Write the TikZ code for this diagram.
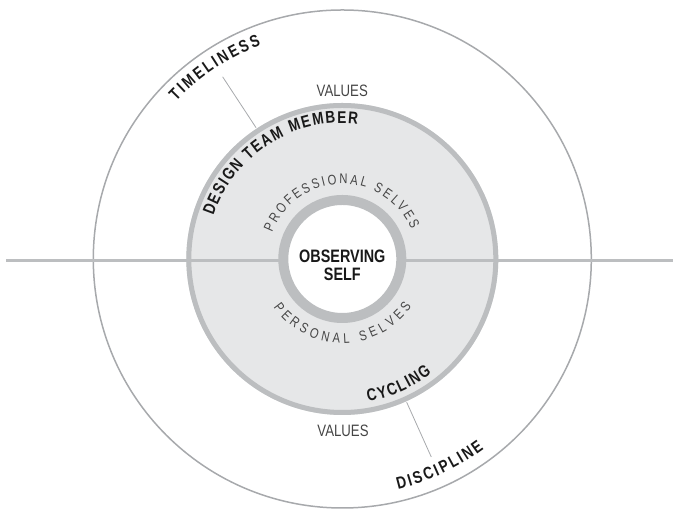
\documentclass[tikz,border=0pt]{standalone}
\usepackage{fontspec}
\setmainfont{Liberation Sans}
\newfontfamily\condsans{Liberation Sans}[FakeStretch=0.8]
\usetikzlibrary{calc,decorations.text}
\definecolor{ringgray}{HTML}{BCBEC0}
\definecolor{discgray}{HTML}{E6E7E8}
\definecolor{linegray}{HTML}{A7A9AC}
\definecolor{labelgray}{HTML}{454545}
\newcommand{\boldlab}{\condsans\bfseries\fontsize{17}{17}\selectfont}
\newcommand{\thinlab}{\condsans\fontsize{14}{14}\selectfont}
\tikzset{
  boldarc/.style={decorate,decoration={text along path,text align=fit to path,
    text color=black!90,text={|\boldlab|#1}}},
  thinarc/.style={decorate,decoration={text along path,text align=fit to path,
    text color=labelgray,text={|\thinlab|#1}}},
  pointer/.style={linegray,line width=0.8pt}
}

\begin{document}
\begin{tikzpicture}[x=1pt,y=1pt]
  \useasboundingbox (0,0) rectangle (673,510);
  \coordinate (c) at (342.3,251);
  \coordinate (west) at (6,249.5);
  \coordinate (east) at (673,249.5);
  \draw[linegray,line width=1.5pt] (c) circle[radius=249];
  \fill[discgray] (c) circle[radius=156];
  \draw[ringgray,line width=3pt] (west) -- (east);
  \draw[ringgray,line width=5pt] (c) circle[radius=153.5];
  \filldraw[fill=white,draw=ringgray,line width=10pt] (c) circle[radius=59];
  \node[font=\condsans\bfseries\fontsize{18}{18}\selectfont,align=center,text=black!90] (observing) at (342.3,245) {OBSERVING\\SELF};
  \node[font=\condsans\fontsize{16.5}{16.5}\selectfont,text=labelgray] (values top) at (342.3,419) {VALUES};
  \node[font=\condsans\fontsize{16.5}{16.5}\selectfont,text=labelgray] (values bottom) at (343,79) {VALUES};
  % curved labels
  \path[boldarc=TIMELINESS] ($(c)+(136.5:229)$) arc[start angle=136.5,end angle=110.8,radius=229];
  \path[boldarc=DESIGN TEAM MEMBER] ($(c)+(161.5:136)$) arc[start angle=161.5,end angle=83.5,radius=136];
  \path[thinarc=PROFESSIONAL SELVES] ($(c)+(159:75)$) arc[start angle=159,end angle=23,radius=75];
  \path[thinarc=PERSONAL SELVES] ($(c)+(215:84)$) arc[start angle=215,end angle=325.5,radius=84];
  \path[boldarc=CYCLING] ($(c)+(-79.7:145)$) arc[start angle=-79.7,end angle=-52,radius=145];
  \path[boldarc=DISCIPLINE] ($(c)+(-76.4:237)$) arc[start angle=-76.4,end angle=-53.3,radius=237];
  % pointers
  \coordinate (timeliness in) at ($(c)+(123.3:157)$);
  \coordinate (timeliness out) at ($(c)+(123.3:218)$);
  \coordinate (cycling in) at ($(c)+(-65.8:157)$);
  \coordinate (cycling out) at ($(c)+(-65.8:217)$);
  \draw[pointer] (timeliness in) -- (timeliness out);
  \draw[pointer] (cycling in) -- (cycling out);
\end{tikzpicture}
\end{document}
